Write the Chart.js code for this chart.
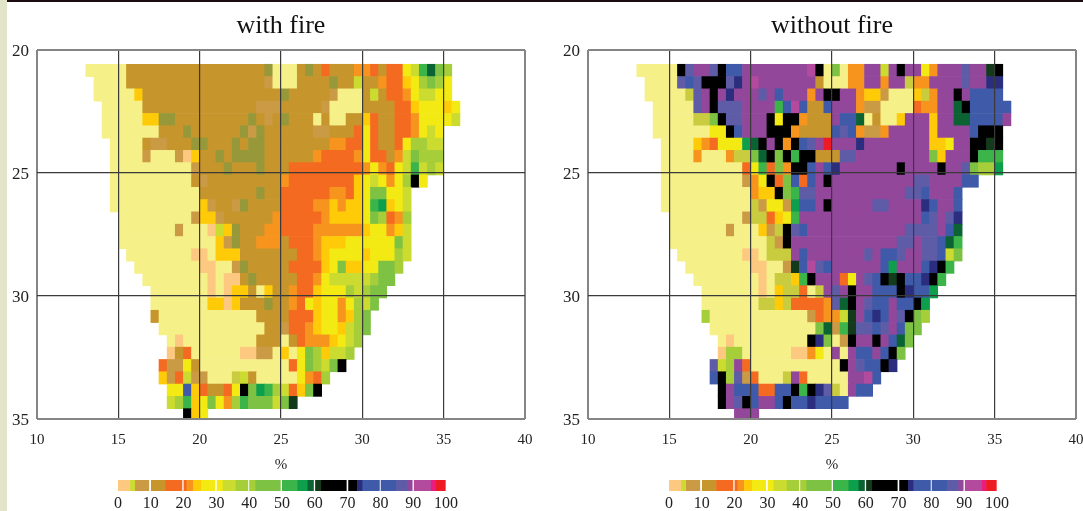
<!DOCTYPE html>
<html>
<head>
<meta charset="utf-8">
<title>with fire / without fire</title>
<script src="https://cdn.jsdelivr.net/npm/chart.js@4/dist/chart.umd.min.js"></script>
<style>
    html, body { margin: 0; padding: 0; width: 1083px; height: 511px; overflow: hidden; background: #fff; }
    canvas { position: absolute; filter: blur(0.35px); }
    #strip { position: absolute; left: 0; top: 0; width: 7px; height: 511px; background: #e3e5ca; }
    #topbar { position: absolute; left: 7px; top: 0; width: 1076px; height: 2px; background: #1c0c12; }
</style>
</head>
<body>
<div id="strip"></div>
<div id="topbar"></div>
<canvas id="fire" width="545" height="475" style="left:0;top:0"></canvas>
<canvas id="nofire" width="545" height="475" style="left:551px;top:0"></canvas>
<canvas id="fireKey" width="370" height="42" style="left:100px;top:469px"></canvas>
<canvas id="nofireKey" width="370" height="42" style="left:651px;top:469px"></canvas>
<script>
const titles = ['with fire', 'without fire'];
const axisLabel = '%';

// colour classes used in the rows below
const classColors = {
    y: '#f6f089', p: '#fdc980', b: '#c6952b', t: '#cb9a45', o: '#96983a',
    r: '#f46a21', f: '#f7941e', g: '#ffcb08', Y: '#f3ea14', l: '#cbdb2f',
    q: '#c9cc3f', m: '#a6ce39', n: '#7dc242', h: '#3bb54a', k: '#0e9f4d',
    d: '#0b6233', x: '#123a1b', X: '#000000', v: '#2b2e7e', B: '#3e5aa9',
    u: '#5e5ba7', P: '#93479b', M: '#b44a9e', Z: '#ec1c7e', R: '#ed1c24'
};

// grid cells are 0.5 degrees, first column starts at 13, first row centre at 20.83
const cellSize = 0.5;
const firstLon = 13;
const firstLat = 20.83;

// one string per row, west to east, "5y" means five cells of class y, "." is no data
const withFireRows = [
    '5y 17b o 3y b o b r 3b 2f r b 2r Y l h d n m',
    '. 4y 17b t 3y 4b o 2b l 2b f 2r g Y m n m Y',
    '. 5y g 17b o 5b t 3y b l b 2r f Y 2l 2Y',
    '2. 5y 14b 3t 5b t 4y 4b 2r g 3Y g Y',
    '2. 5y 2g 2o 9b o b t b o 3b y b 2y 2b g r 2b 2r f 4Y l',
    '2. 7y 3b o 6b o t o 6b 2t 3b r Y r 2b 2r f Y l Y',
    '3. 4y b 2t 3b 2o 3b o b 2o 8b 2f 2r Y r 2b r Y 2m 2l',
    '3. 4y t 3y t p g 2b o b 4o 6b f 4r f Y 2r b f l n 3m',
    '3. 10y t 3b o 3b o 3b 9r f Y f r Y l h l m l',
    '3. 10y b t 9b f 8r g Y l Y f Y m X Y',
    '3. 11y 7b o 2b 6r 2f r g Y 2n 2Y l',
    '3. 11y g t 2b t o 4b 4r 2f g f 2g Y h k g Y l',
    '4. 9y t 2g t 6b f 5r f 4g Y n m r f m',
    '4. 7y t 3y p l g o 3b 2f 4r 6f g 2Y f g l',
    '4. 12y g t o 2b 3f b 3r f 3g 6Y n l',
    '5. 8y 2p y 3g 7b 2r f g 4Y g 3Y m l',
    '6. 8y 2p 2y t o 5b 4r g Y n 2g 2Y 2n m',
    '7. 8y p y 2p b o 5b 2r f Y 5l m 2n',
    '8. 7y p y p 2g b y g 2b f 2r g 3Y m l m 2n',
    '8. 7y 2g p g 3b o 2b f r Y g 2Y f Y m l n',
    '8. b 12y 4b 3r g 2Y f g m n',
    '9. 13y 2b t 2r f g 2Y g l m n',
    '10. y p 9y 3b y b r 3f g Y l m',
    '10. p b r 6y 2p 2t y g y Y n m g 2l m',
    '9. r 2t Y b 11y r Y n m l n X',
    '9. g t r l 2t 3y q l b 5y Y f r m',
    '10. 2Y B g r 2b r Y X n k h m l r g n X',
    '10. l m h g Y n Y f m h 3n l n x',
    '12. X g Y'
];

const withoutFireRows = [
    '5y X u 2P u X 2B 8P M X y n y 2f 2P l P X 2P Y f 3P u 2P x X',
    '. 4y u B u 3X u v P M 7P b 3y 2f 2P f 2P q 2f 4P u 2P 2v',
    '. 5y q u P X P v 3P u P B 3P f P 2X 2P f 2g t 3y g q f 2P X P 4B',
    '2. 5y u P X 3u 4P h B M B 2b B 3P f 2t 4y r 2f 2P d X 5B',
    '2. 5y 2q n X 2u 3P X Y 2X f 3b P 2B d y b 2y g 3P g 2P 2d 4B P',
    '2. 7y 2Y X B 3P 3X f 4b B u B f 2t f 5P g 4P B 3X',
    '3. 4y g f r 3Y k d X P X f X B u P R 3P v 8P 2g Y 2P 2X x X',
    '3. 4y f 3y f 2q n d X n X h 2X 3b 2u 9P n g 3P X 3h',
    '3. 10y r Y h r n f 2X B P B v 7P X 4P X 2P u n 2m k',
    '3. 10y t f Y X r n B r B P X 10P 2u 4P 2B',
    '3. 11y f 2g X n h 2u 11P 2u B 3P B',
    '3. 11y q t 2Y t k 2B P X 5P 2u 4P v B 2P B',
    '4. 9y t 2q r g Y h 15P B u P u v',
    '4. 7y t 3y g t q X u B 12P 4u P B d',
    '4. 12y q t X 13P 2u P 2u B d h',
    '5. 8y 2p y 3q P B 7P u P 2B u 2P 2u B l n',
    '6. 8y 2p 2y t x B M u B 6P B k 3P B v X h',
    '7. 8y p y 2q g h X 3P r Y P u B X x X 2B v X h',
    '8. 7y p y g 2q r y q P u P X 2P 3B X v 2B k',
    '8. 7y 2q g q 4r f u d X P u 2B P 2B X k',
    '8. m 12y t r 2f l x P B v B P u X n m',
    '9. 13y n d t h x 2u B u P B 2n',
    '10. y p 9y X v n y t X 2P X P B d n',
    '10. p 2m 6y 2p f Y y P y P 2B P B X n',
    '9. u l m P r 11y X P u 2B X v',
    '9. B X m u t r 3y q P r 5y 2P M B',
    '10. X P 3B 2r 2B X h X v u q y P 2B',
    '10. X P u X B 2P B X 2B v 4B',
    '12. 3P'
];

// colour key, from / to in percent
const keyFrom = [0, 3.8, 5.3, 10.15, 14.5, 20.1, 21, 23, 25.4, 30.2, 32, 36, 40.1, 42, 50.1, 54.8, 57.9, 60.2, 62, 70.3, 73, 74.6, 80.2, 84.8, 88.3, 90.3, 95.5, 96.8];
const keyTo = [3.8, 5.3, 9.4, 14.5, 19.5, 21, 23, 25.4, 29.5, 32, 36, 39.6, 42, 49.5, 54.8, 57.9, 59.6, 62, 69.6, 73, 74.6, 79.7, 84.8, 88.3, 89.7, 95.5, 96.8, 99.8];
const keyClasses = ['p', 'l', 't', 'b', 'r', 'r', 'f', 'g', 'Y', 'Y', 'l', 'm', 'm', 'n', 'h', 'k', 'd', 'x', 'X', 'X', 'v', 'B', 'B', 'u', 'P', 'M', 'Z', 'R'];

Chart.defaults.font.family = '"Liberation Serif", serif';
Chart.defaults.color = '#222';
Chart.defaults.animation = false;

function rowsToBars(rows) {
    const bars = [];
    rows.forEach((row, r) => {
        let col = 0;
        row.split(' ').forEach(token => {
            const count = parseInt(token) || 1;
            const cls = token[token.length - 1];
            if (cls !== '.') {
                bars.push({
                    x: [firstLon + col * cellSize, firstLon + (col + count) * cellSize],
                    y: firstLat + r * cellSize,
                    cls
                });
            }
            col += count;
        });
    });
    return bars;
}

function gridColor(ctx, low, high) {
    const v = ctx.tick.value;
    return v === low || v === high ? '#858585' : '#3a3a3a';
}

function gridWidth(ctx, low, high) {
    const v = ctx.tick.value;
    return v === low || v === high ? 2 : 1.2;
}

function drawMap(id, title, rows) {
    new Chart(document.getElementById(id), {
        type: 'bar',
        data: {
            datasets: [{
                data: rowsToBars(rows),
                backgroundColor: ctx => classColors[ctx.raw.cls],
                borderWidth: 0,
                barPercentage: 1,
                categoryPercentage: 1
            }]
        },
        options: {
            indexAxis: 'y',
            responsive: false,
            layout: { padding: { right: 18 } },
            plugins: {
                legend: { display: false },
                tooltip: { enabled: false },
                title: {
                    display: true,
                    text: title,
                    fullSize: false,
                    color: '#111',
                    font: { size: 26, weight: 'normal' },
                    padding: { top: 10.5, bottom: 8.3 }
                }
            },
            scales: {
                x: {
                    type: 'linear',
                    min: 10,
                    max: 40,
                    offset: false,
                    grid: {
                        z: 1,
                        drawTicks: false,
                        color: ctx => gridColor(ctx, 10, 40),
                        lineWidth: ctx => gridWidth(ctx, 10, 40)
                    },
                    border: { display: false },
                    ticks: { stepSize: 5, padding: 12.5, maxRotation: 0, autoSkip: false, font: { size: 15 } },
                    title: { display: true, text: axisLabel, font: { size: 15 }, padding: { top: 4, bottom: 1 } },
                    afterFit: scale => { scale.height = 56; }
                },
                y: {
                    type: 'linear',
                    reverse: true,
                    min: 20,
                    max: 35,
                    offset: false,
                    grid: {
                        z: 1,
                        offset: false,
                        drawTicks: false,
                        color: ctx => gridColor(ctx, 20, 35),
                        lineWidth: ctx => gridWidth(ctx, 20, 35)
                    },
                    border: { display: false },
                    ticks: { stepSize: 5, padding: 8, autoSkip: false, labelOffset: 1.5, font: { size: 17 } },
                    afterFit: scale => { scale.width = 37; }
                }
            }
        }
    });
}

function drawKey(id) {
    new Chart(document.getElementById(id), {
        type: 'bar',
        data: {
            labels: ['key'],
            datasets: [{
                data: keyFrom.map((from, i) => ({ x: [from, keyTo[i]], y: 'key' })),
                backgroundColor: keyClasses.map(c => classColors[c]),
                borderWidth: 0,
                barPercentage: 1,
                categoryPercentage: 1
            }]
        },
        options: {
            indexAxis: 'y',
            responsive: false,
            layout: { padding: { left: 18, right: 24, top: 11 } },
            plugins: { legend: { display: false }, tooltip: { enabled: false } },
            scales: {
                x: {
                    type: 'linear',
                    min: 0,
                    max: 100,
                    grid: { display: false, drawTicks: false },
                    border: { display: false },
                    ticks: { stepSize: 10, padding: 3, maxRotation: 0, autoSkip: false, font: { size: 16 } },
                    afterFit: scale => { scale.height = 20; }
                },
                y: { display: false }
            }
        }
    });
}

drawMap('fire', titles[0], withFireRows);
drawMap('nofire', titles[1], withoutFireRows);
drawKey('fireKey');
drawKey('nofireKey');
</script>
</body>
</html>
